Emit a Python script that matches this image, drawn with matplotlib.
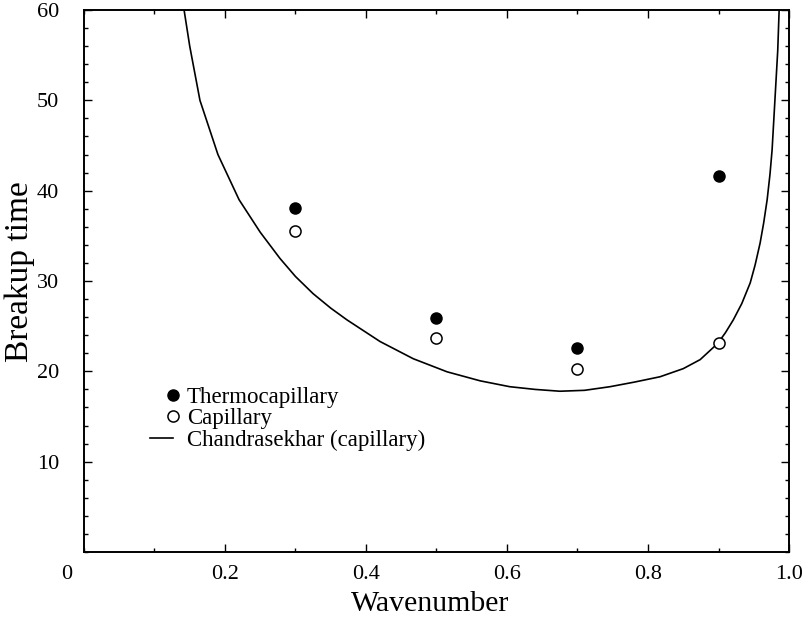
import matplotlib
matplotlib.use("Agg")
import matplotlib.pyplot as plt
from matplotlib.legend_handler import HandlerLine2D
from matplotlib.ticker import MultipleLocator

# measured breakup times
wavenumber = [0.3, 0.5, 0.7, 0.9]
thermo_time = [38.1, 25.9, 22.6, 41.6]
capillary_time = [35.5, 23.7, 20.3, 23.1]

# Chandrasekhar capillary prediction, sampled along the curve
chandra_k = [0.142, 0.150, 0.1645, 0.190, 0.220, 0.250, 0.278, 0.300, 0.325,
             0.350, 0.373, 0.420, 0.467, 0.515, 0.562, 0.604, 0.640, 0.675,
             0.710, 0.746, 0.780, 0.817, 0.850, 0.874, 0.899, 0.910, 0.921,
             0.933, 0.945, 0.952, 0.959, 0.964, 0.969, 0.973, 0.976, 0.980,
             0.984, 0.986]
chandra_time = [60.0, 56.0, 50.0, 44.0, 39.0, 35.4, 32.5, 30.5, 28.6,
                27.0, 25.7, 23.3, 21.4, 19.95, 18.95, 18.3, 18.0, 17.8,
                17.9, 18.3, 18.8, 19.4, 20.3, 21.3, 23.1, 24.3, 25.7,
                27.5, 29.8, 31.8, 34.2, 36.4, 39.0, 41.8, 44.5, 50.0,
                55.5, 60.0]

x_ticks = [0.2, 0.4, 0.6, 0.8, 1.0]
x_ticklabels = ["0.2", "0.4", "0.6", "0.8", "1.0"]
y_ticks = [10, 20, 30, 40, 50, 60]


class MarkerAtEnd(HandlerLine2D):
    # put the legend marker at the right end of the handle box
    def get_xdata(self, legend, xdescent, ydescent, width, height, fontsize):
        end = -xdescent + width
        return [end - 1, end + 1], [end]


plt.rcParams["font.family"] = ["Liberation Serif", "DejaVu Serif"]

fig = plt.figure(figsize=(8.02, 6.22), dpi=100)
ax = fig.add_axes([0.1047, 0.1125, 0.8791, 0.8714])

line, = ax.plot(chandra_k, chandra_time, color="black", lw=1.2,
                label="Chandrasekhar (capillary)")
thermo, = ax.plot(wavenumber, thermo_time, "o", color="black", ms=8,
                  label="Thermocapillary")
capil, = ax.plot(wavenumber, capillary_time, "o", mfc="white", mec="black",
                 mew=1.1, ms=8, label="Capillary")

ax.set_xlim(0, 1.0)
ax.set_ylim(0, 60)
ax.set_xticks(x_ticks)
ax.set_xticklabels(x_ticklabels)
ax.set_yticks(y_ticks)
ax.xaxis.set_minor_locator(MultipleLocator(0.1))
ax.yaxis.set_minor_locator(MultipleLocator(2))
ax.tick_params(which="both", direction="in", top=True, right=True,
               labelsize=16, width=1.0)
ax.tick_params(axis="y", which="major", pad=18)
ax.tick_params(axis="x", which="major", pad=9)
ax.tick_params(which="major", length=6)
ax.tick_params(which="minor", length=3)
for s in ax.spines.values():
    s.set_linewidth(1.4)

# shared origin label sits a little left of the corner
ax.text(-0.024, -0.024, "0", transform=ax.transAxes, ha="center", va="top",
        fontsize=16)

ax.set_xlabel("Wavenumber", fontsize=21.5)
ax.set_ylabel("Breakup time", fontsize=24)
ax.xaxis.set_label_coords(0.491, -0.095)
ax.yaxis.set_label_coords(-0.091, 0.517)
ax.xaxis.label.set_va("center")
ax.yaxis.label.set_va("center")

ax.legend([thermo, capil, line],
          ["Thermocapillary", "Capillary", "Chandrasekhar (capillary)"],
          handler_map={thermo: MarkerAtEnd(), capil: MarkerAtEnd()},
          loc="upper left", bbox_to_anchor=(0.0936, 0.304), frameon=False,
          fontsize=16.5, handlelength=1.0, handletextpad=0.6,
          labelspacing=0.0, borderaxespad=0, borderpad=0, numpoints=1)

fig.savefig("out.png", dpi=100)
